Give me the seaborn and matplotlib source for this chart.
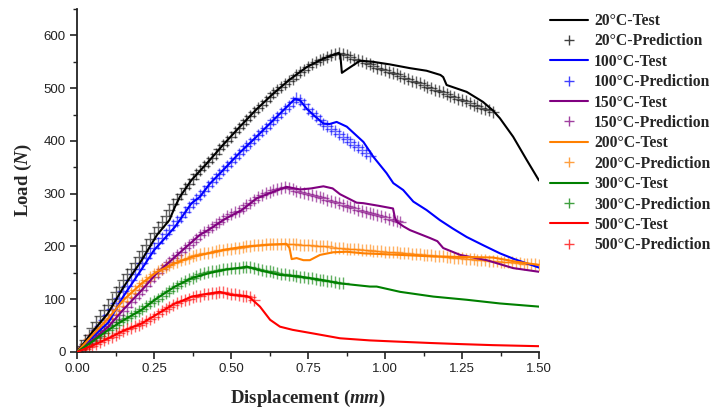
import numpy as np
import pandas as pd
import matplotlib
matplotlib.use("Agg")
import matplotlib.pyplot as plt
import seaborn as sns
from matplotlib.lines import Line2D
from matplotlib.ticker import MultipleLocator

# ---------------- data ----------------
TEMPS = ["20°C", "100°C", "150°C", "200°C", "300°C", "500°C"]
COLORS = ["#000000", "#0000FF", "#800080", "#FF8000", "#008000", "#FF0000"]

# prediction displacement grid (mm)
PRED_X = [0.0, 0.0125, 0.025, 0.0375, 0.05, 0.0625, 0.075, 0.0875, 0.1, 0.1125,
          0.125, 0.1375, 0.15, 0.1625, 0.175, 0.1875, 0.2, 0.2125, 0.225, 0.2375,
          0.25, 0.2625, 0.275, 0.2875, 0.3, 0.3125, 0.325, 0.3375, 0.35, 0.3625,
          0.375, 0.3875, 0.4, 0.4125, 0.425, 0.4375, 0.45, 0.4625, 0.475, 0.4875,
          0.5, 0.5125, 0.525, 0.5375, 0.55, 0.5625, 0.575, 0.5875, 0.6, 0.6125,
          0.625, 0.6375, 0.65, 0.6625, 0.675, 0.6875, 0.7, 0.7125, 0.725, 0.7375,
          0.75, 0.7625, 0.775, 0.7875, 0.8, 0.8125, 0.825, 0.8375, 0.85, 0.8625,
          0.875, 0.8875, 0.9, 0.9125, 0.925, 0.9375, 0.95, 0.9625, 0.975, 0.9875,
          1.0, 1.0125, 1.025, 1.0375, 1.05, 1.0625, 1.075, 1.0875, 1.1, 1.1125,
          1.125, 1.1375, 1.15, 1.1625, 1.175, 1.1875, 1.2, 1.2125, 1.225, 1.2375,
          1.25, 1.2625, 1.275, 1.2875, 1.3, 1.3125, 1.325, 1.3375, 1.35, 1.3625,
          1.375, 1.3875, 1.4, 1.4125, 1.425, 1.4375, 1.45, 1.4625, 1.475, 1.4875,
          1.5]

# --- test curves ---
t20_x = [0, 0.05, 0.10, 0.15, 0.21, 0.26, 0.30, 0.318, 0.334, 0.372, 0.421, 0.475,
         0.529, 0.583, 0.638, 0.69, 0.746, 0.80, 0.85, 0.855, 0.86, 0.875, 0.919,
         0.96, 1.016, 1.08, 1.135, 1.18, 1.189, 1.20, 1.265, 1.318, 1.35, 1.373,
         1.416, 1.46, 1.50]
t20_y = [0, 38, 73, 122, 174, 222, 250, 275, 294, 326, 357, 393, 427, 460, 490, 516,
         540, 556, 567, 562, 529, 535, 552, 550, 545, 538, 533, 525, 521, 506, 493,
         474, 458, 443, 408, 364, 325]

t100_x = [0, 0.05, 0.102, 0.15, 0.21, 0.25, 0.275, 0.318, 0.372, 0.399, 0.43, 0.475,
          0.529, 0.583, 0.63, 0.67, 0.708, 0.724, 0.746, 0.77, 0.8, 0.82, 0.843,
          0.876, 0.93, 0.962, 1.005, 1.027, 1.059, 1.092, 1.135, 1.178, 1.22, 1.265,
          1.32, 1.373, 1.42, 1.46, 1.50]
t100_y = [0, 28, 56, 105, 157, 193, 209, 237, 282, 294, 318, 345, 378, 408, 435, 458,
          480, 477, 461, 448, 433, 432, 436, 427, 398, 370, 339, 320, 307, 285, 269,
          250, 234, 218, 202, 187, 176, 168, 160]

t150_x = [0, 0.05, 0.102, 0.15, 0.21, 0.26, 0.318, 0.372, 0.399, 0.426, 0.48, 0.535,
          0.583, 0.63, 0.68, 0.724, 0.76, 0.8, 0.83, 0.854, 0.908, 0.93, 0.98, 1.026,
          1.032, 1.038, 1.06, 1.081, 1.146, 1.17, 1.189, 1.244, 1.33, 1.416, 1.50]
t150_y = [0, 22, 48, 80, 117, 150, 180, 208, 222, 231, 252, 269, 291, 302, 313, 308,
          310, 314, 310, 299, 283, 282, 277, 272, 255, 247, 238, 231, 216, 210, 197,
          184, 174, 159, 152]

t200_x = [0, 0.05, 0.102, 0.15, 0.21, 0.26, 0.318, 0.372, 0.426, 0.48, 0.535, 0.616,
          0.68, 0.69, 0.697, 0.713, 0.735, 0.756, 0.789, 0.832, 0.875, 0.93, 1.049,
          1.157, 1.265, 1.351, 1.427, 1.50]
t200_y = [0, 32, 64, 98, 130, 152, 168, 180, 187, 194, 199, 203, 205, 197, 176, 178,
          174, 174, 184, 189, 190, 187, 184, 181, 180, 179, 171, 165]

t300_x = [0, 0.05, 0.102, 0.15, 0.21, 0.26, 0.318, 0.372, 0.426, 0.48, 0.535, 0.551,
          0.6, 0.659, 0.724, 0.8, 0.854, 0.951, 0.973, 1.049, 1.157, 1.265, 1.373, 1.50]
t300_y = [0, 20, 42, 60, 80, 102, 124, 140, 149, 156, 160, 162, 154, 146, 143, 136,
          130, 124, 124, 114, 105, 99, 92, 86]

t500_x = [0, 0.05, 0.102, 0.15, 0.21, 0.264, 0.318, 0.334, 0.372, 0.42, 0.464, 0.5,
          0.551, 0.562, 0.594, 0.627, 0.659, 0.7, 0.768, 0.854, 0.95, 1.027, 1.15,
          1.244, 1.35, 1.50]
t500_y = [0, 12, 26, 40, 54, 73, 92, 95, 105, 110, 114, 108, 106, 103, 86, 61, 48,
          42, 35, 26, 22, 20, 17, 15, 13, 11]

# --- prediction values on PRED_X grid (first len(...) points) ---
p20_y = [0, 11, 22, 33, 45, 56, 68, 79, 90, 101,
         113, 124, 136, 147, 158, 169, 180, 192, 203, 214,
         225, 236, 247, 258, 270, 280, 290, 300, 310, 319,
         328, 337, 345, 353, 360, 368, 376, 384, 392, 400,
         408, 416, 424, 432, 440, 448, 455, 462, 469, 476,
         483, 490, 496, 502, 507, 513, 518, 524, 530, 535,
         540, 545, 549, 553, 556, 559, 562, 565, 567, 565,
         562, 559, 556, 554, 551, 548, 545, 542, 539, 537,
         534, 531, 528, 526, 523, 520, 517, 514, 511, 509,
         506, 503, 500, 497, 494, 492, 489, 486, 483, 480,
         477, 475, 472, 469, 466, 463, 460, 458, 455]
p100_y = [0, 7, 15, 23, 32, 41, 50, 60, 70, 81,
          92, 103, 115, 126, 137, 148, 158, 168, 178, 188,
          198, 207, 216, 224, 232, 240, 248, 256, 265, 274,
          283, 290, 298, 306, 314, 322, 330, 337, 345, 353,
          361, 368, 376, 383, 390, 397, 404, 411, 418, 425,
          432, 439, 446, 453, 460, 467, 474, 481, 478, 470,
          460, 453, 447, 440, 433, 428, 423, 418, 413, 408,
          403, 398, 393, 388, 382, 377, 372]
p150_y = [0, 5, 11, 17, 23, 29, 36, 42, 49, 56,
          63, 70, 78, 86, 94, 102, 110, 118, 126, 134,
          142, 150, 157, 164, 171, 178, 184, 190, 197, 203,
          209, 215, 221, 227, 232, 237, 242, 247, 252, 257,
          261, 265, 268, 273, 278, 283, 288, 293, 297, 301,
          304, 307, 309, 311, 313, 311, 309, 306, 304, 302,
          300, 297, 295, 293, 291, 288, 286, 284, 282, 279,
          277, 275, 273, 270, 268, 266, 264, 261, 259, 257,
          255, 252, 250, 248, 246]
p200_y = [0, 8, 16, 24, 32, 40, 48, 56, 64, 72,
          80, 88, 96, 104, 111, 118, 125, 131, 137, 143,
          148, 153, 157, 161, 165, 168, 171, 174, 176, 179,
          181, 183, 185, 187, 188, 190, 191, 193, 194, 195,
          196, 197, 198, 199, 200, 201, 202, 203, 203, 204,
          204, 205, 205, 205, 205, 205, 205, 204, 203, 203,
          202, 202, 201, 201, 200, 200, 199, 198, 197, 197,
          196, 196, 195, 195, 194, 194, 193, 192, 191, 191,
          190, 190, 189, 189, 188, 188, 187, 186, 185, 185,
          184, 184, 183, 182, 181, 181, 180, 180, 179, 179,
          178, 177, 176, 176, 175, 175, 174, 173, 172, 172,
          171, 171, 170, 170, 169, 168, 167, 167, 166, 166, 165]
p300_y = [0, 5, 10, 15, 20, 26, 31, 36, 41, 46,
          51, 56, 60, 65, 69, 74, 78, 82, 87, 92,
          97, 101, 106, 111, 116, 121, 126, 130, 134, 138,
          141, 144, 147, 149, 151, 153, 154, 156, 157, 158,
          159, 160, 160, 161, 161, 162, 159, 157, 156, 154,
          153, 151, 150, 148, 147, 146, 145, 144, 143, 142,
          141, 140, 139, 137, 136, 135, 134, 132, 131, 130]
p500_y = [0, 3, 6, 9, 12, 15, 19, 22, 26, 29,
          33, 36, 40, 43, 46, 49, 52, 55, 59, 63,
          67, 72, 77, 81, 86, 90, 93, 96, 99, 101,
          104, 106, 107, 109, 110, 111, 112, 113, 113, 112,
          110, 109, 108, 107, 106, 104, 99]

TEST = [(t20_x, t20_y), (t100_x, t100_y), (t150_x, t150_y),
        (t200_x, t200_y), (t300_x, t300_y), (t500_x, t500_y)]
PRED = [p20_y, p100_y, p150_y, p200_y, p300_y, p500_y]

X_TICKS = [0.00, 0.25, 0.50, 0.75, 1.00, 1.25, 1.50]
Y_TICKS = [0, 100, 200, 300, 400, 500, 600]

# ---------------- plot ----------------
sns.set_theme(style="ticks")
plt.rcParams["font.family"] = ["Liberation Sans", "DejaVu Sans"]
plt.rcParams["mathtext.fontset"] = "custom"
plt.rcParams["mathtext.it"] = "Liberation Serif:italic:bold"
plt.rcParams["mathtext.rm"] = "Liberation Serif:bold"

fig = plt.figure(figsize=(7.18, 4.13), dpi=100)
ax = fig.add_axes([77 / 718, 1 - 352 / 413, 462 / 718, 343 / 413])

handles = []
for name, col, (tx, ty), py in zip(TEMPS, COLORS, TEST, PRED):
    dft = pd.DataFrame({"x": tx, "y": ty})
    sns.lineplot(data=dft, x="x", y="y", ax=ax, color=col, lw=1.5,
                 sort=False, estimator=None, zorder=3)
    dfp = pd.DataFrame({"x": PRED_X[:len(py)], "y": py})
    sns.lineplot(data=dfp, x="x", y="y", ax=ax, color=col, linestyle="none",
                 marker="+", markersize=8, markeredgewidth=1.0,
                 markeredgecolor=col, alpha=0.62, sort=False, estimator=None,
                 zorder=2)
    handles.append(Line2D([], [], color=col, lw=1.5, label=f"{name}-Test"))
    handles.append(Line2D([], [], color=col, linestyle="none", marker="+",
                          markersize=7, markeredgewidth=1.0, markeredgecolor=col,
                          alpha=0.75, label=f"{name}-Prediction"))

ax.set_xlim(0, 1.5)
ax.set_ylim(0, 650)
ax.set_xticks(X_TICKS)
ax.set_xticklabels([f"{v:.2f}" for v in X_TICKS])
ax.set_yticks(Y_TICKS)
ax.xaxis.set_minor_locator(MultipleLocator(0.125))
ax.yaxis.set_minor_locator(MultipleLocator(50))
for s in ["top", "right"]:
    ax.spines[s].set_visible(False)
for s in ["left", "bottom"]:
    ax.spines[s].set_linewidth(1.3)
    ax.spines[s].set_color("#222222")
ax.tick_params(axis="both", which="major", direction="out", length=5, width=1.2,
               labelsize=9.5, colors="#222222", pad=3)
ax.tick_params(axis="both", which="minor", direction="out", length=3, width=1.0,
               colors="#222222")

ax.set_xlabel(r"Displacement ($mm$)", fontsize=13.5, fontweight="bold",
              family="Liberation Serif", labelpad=9)
ax.set_ylabel(r"Load ($N$)", fontsize=13.5, fontweight="bold",
              family="Liberation Serif", labelpad=7)

leg = fig.legend(handles=handles, loc="upper left",
                 bbox_to_anchor=(550 / 718, 1 - 13 / 413),
                 bbox_transform=fig.transFigure, frameon=False,
                 prop={"family": "Liberation Serif", "weight": "bold", "size": 11.3},
                 handlelength=2.4, handletextpad=0.4, labelspacing=0.28,
                 borderpad=0, borderaxespad=0)

fig.savefig("out.png", dpi=100)
